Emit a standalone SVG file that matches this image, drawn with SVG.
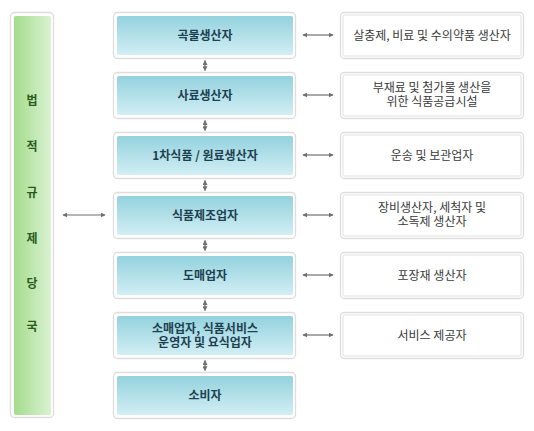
<svg xmlns="http://www.w3.org/2000/svg" width="534" height="431" viewBox="0 0 534 431">
<style>
.ob{fill:#fff;stroke:#dddddd;stroke-width:1.3}
.cb{fill:url(#blue)}
.rb{fill:#fff;stroke:#ececec;stroke-width:1.5}
.ct{font-family:"Noto Sans CJK KR","Noto Sans",sans-serif;font-size:12px;font-weight:bold;fill:#1d3f4f;text-anchor:middle}
.rt{font-family:"Noto Sans CJK KR","Noto Sans",sans-serif;font-size:12px;fill:#3a3a3a;text-anchor:middle}
.lt{font-family:"Noto Sans CJK KR","Noto Sans",sans-serif;font-size:12px;font-weight:bold;fill:#2b5a1c;text-anchor:middle}
.ar{stroke:#707070;stroke-width:1.2;fill:none;marker-start:url(#ah);marker-end:url(#ah)}
</style>
<defs>
<linearGradient id="blue" x1="0" y1="0" x2="0" y2="1"><stop offset="0" stop-color="#93d2de"/><stop offset="1" stop-color="#d2eef4"/></linearGradient>
<linearGradient id="green" x1="0" y1="0" x2="1" y2="0"><stop offset="0" stop-color="#a4dc8c"/><stop offset="1" stop-color="#daf2d2"/></linearGradient>
<marker id="ah" viewBox="0 0 8 8" refX="7" refY="4" markerWidth="5" markerHeight="5" orient="auto-start-reverse" markerUnits="userSpaceOnUse"><path d="M0,0 L8,4 L0,8 z" fill="#707070"/></marker>
</defs>

<g id="regulator">
<rect class="ob" x="10.5" y="12.5" width="43" height="405" rx="4"/>
<rect x="14" y="16" width="37" height="399" rx="2" fill="url(#green)"/>
<text class="lt" x="32" y="105">법</text>
<text class="lt" x="32" y="151">적</text>
<text class="lt" x="32" y="197">규</text>
<text class="lt" x="32" y="243">제</text>
<text class="lt" x="32" y="288">당</text>
<text class="lt" x="32" y="331">국</text>
</g>

<g id="c1"><rect class="ob" x="113.5" y="12.5" width="182" height="46" rx="4"/><rect class="cb" x="117" y="16" width="176" height="39" rx="2"/><text class="ct" x="205" y="39.5">곡물생산자</text></g>
<g id="c2"><rect class="ob" x="113.5" y="72.5" width="182" height="46" rx="4"/><rect class="cb" x="117" y="76" width="176" height="39" rx="2"/><text class="ct" x="205" y="99.5">사료생산자</text></g>
<g id="c3"><rect class="ob" x="113.5" y="132.5" width="182" height="46" rx="4"/><rect class="cb" x="117" y="136" width="176" height="39" rx="2"/><text class="ct" x="205" y="159.5">1차식품 / 원료생산자</text></g>
<g id="c4"><rect class="ob" x="113.5" y="192.5" width="182" height="46" rx="4"/><rect class="cb" x="117" y="196" width="176" height="39" rx="2"/><text class="ct" x="205" y="219.5">식품제조업자</text></g>
<g id="c5"><rect class="ob" x="113.5" y="252.5" width="182" height="46" rx="4"/><rect class="cb" x="117" y="256" width="176" height="39" rx="2"/><text class="ct" x="205" y="279.5">도매업자</text></g>
<g id="c6"><rect class="ob" x="113.5" y="312.5" width="182" height="46" rx="4"/><rect class="cb" x="117" y="316" width="176" height="39" rx="2"/><text class="ct" x="205" y="332.5">소매업자, 식품서비스</text><text class="ct" x="205" y="346.5">운영자 및 요식업자</text></g>
<g id="c7"><rect class="ob" x="113.5" y="372.5" width="182" height="46" rx="4"/><rect class="cb" x="117" y="376" width="176" height="39" rx="2"/><text class="ct" x="205" y="399.5">소비자</text></g>

<g id="r1"><rect class="ob" x="340.5" y="12.5" width="183" height="46" rx="4"/><rect class="rb" x="343" y="15" width="178" height="41" rx="2"/><text class="rt" x="432" y="39.5">살충제, 비료 및 수의약품 생산자</text></g>
<g id="r2"><rect class="ob" x="340.5" y="72.5" width="183" height="46" rx="4"/><rect class="rb" x="343" y="75" width="178" height="41" rx="2"/><text class="rt" x="432" y="92">부재료 및 첨가물 생산을</text><text class="rt" x="432" y="106">위한 식품공급시설</text></g>
<g id="r3"><rect class="ob" x="340.5" y="132.5" width="183" height="46" rx="4"/><rect class="rb" x="343" y="135" width="178" height="41" rx="2"/><text class="rt" x="432" y="159.5">운송 및 보관업자</text></g>
<g id="r4"><rect class="ob" x="340.5" y="192.5" width="183" height="46" rx="4"/><rect class="rb" x="343" y="195" width="178" height="41" rx="2"/><text class="rt" x="432" y="212">장비생산자, 세척자 및</text><text class="rt" x="432" y="226">소독제 생산자</text></g>
<g id="r5"><rect class="ob" x="340.5" y="252.5" width="183" height="46" rx="4"/><rect class="rb" x="343" y="255" width="178" height="41" rx="2"/><text class="rt" x="432" y="279.5">포장재 생산자</text></g>
<g id="r6"><rect class="ob" x="340.5" y="312.5" width="183" height="46" rx="4"/><rect class="rb" x="343" y="315" width="178" height="41" rx="2"/><text class="rt" x="432" y="339.5">서비스 제공자</text></g>

<g id="connectors">
<path class="ar" d="M63,215 H105"/>
<path class="ar" d="M303,35 H333"/>
<path class="ar" d="M303,95 H333"/>
<path class="ar" d="M303,155 H333"/>
<path class="ar" d="M303,215 H333"/>
<path class="ar" d="M303,275 H333"/>
<path class="ar" d="M303,335 H333"/>
<path class="ar" d="M205,60.5 V70.5"/>
<path class="ar" d="M205,120.5 V130.5"/>
<path class="ar" d="M205,180.5 V190.5"/>
<path class="ar" d="M205,240.5 V250.5"/>
<path class="ar" d="M205,300.5 V310.5"/>
<path class="ar" d="M205,360.5 V370.5"/>
</g>
</svg>
